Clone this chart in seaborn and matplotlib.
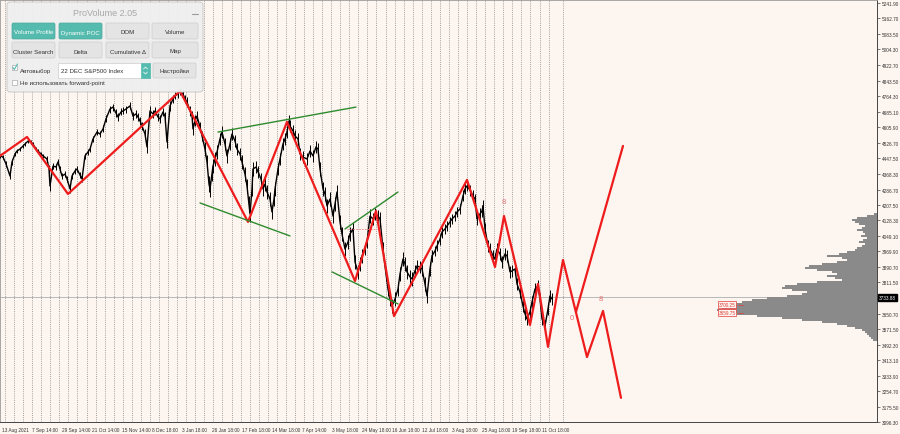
import numpy as np
import pandas as pd
import matplotlib
matplotlib.use("Agg")
import matplotlib.pyplot as plt
import seaborn as sns
from matplotlib.patches import FancyBboxPatch, Rectangle

sns.set_theme(style="white")
plt.rcParams["font.family"] = ["Liberation Sans", "DejaVu Sans"]

# ---------------- data ----------------
bar_x = [0, 3, 6, 10, 12, 15, 17, 20, 23, 25, 28, 31, 33, 36, 38, 41, 43, 47, 49, 50,
         53, 56, 58, 60, 62, 65, 67, 70, 72, 75, 77, 80, 82, 85, 88, 90, 93, 97, 100, 103,
         106, 110, 113, 116, 118, 121, 123, 126, 130, 133, 136, 138, 140, 142, 145, 147, 150, 153, 155, 158,
         160, 163, 165, 167, 170, 173, 175, 178, 180, 183, 185, 187, 190, 192, 193, 195, 197, 200, 202, 205,
         207, 209, 210, 212, 213, 215, 217, 220, 222, 225, 227, 230, 232, 235, 237, 240, 242, 245, 247, 249,
         250, 252, 253, 256, 258, 261, 263, 265, 267, 270, 272, 274, 275, 278, 280, 283, 285, 287, 289, 290,
         293, 295, 298, 300, 303, 307, 310, 313, 316, 318, 320, 323, 325, 327, 330, 333, 335, 337, 340, 342,
         345, 348, 350, 353, 355, 358, 360, 362, 365, 367, 370, 373, 375, 378, 380, 383, 386, 388, 390, 392,
         395, 398, 400, 403, 405, 407, 410, 412, 415, 417, 420, 422, 425, 427, 430, 432, 435, 437, 440, 442,
         445, 447, 450, 452, 455, 457, 460, 463, 465, 467, 470, 473, 475, 477, 480, 482, 483, 485, 488, 490,
         493, 495, 497, 500, 502, 505, 507, 510, 512, 515, 517, 520, 523, 525, 527, 530, 532, 535, 538, 540,
         542, 545, 548, 550, 552]
close = [4459, 4453, 4418, 4356, 4428, 4469, 4484, 4494, 4510, 4520, 4535, 4530, 4520, 4494, 4484, 4469, 4459, 4443, 4392, 4305,
         4407, 4402, 4428, 4392, 4356, 4366, 4341, 4290, 4356, 4382, 4392, 4361, 4341, 4459, 4479, 4494, 4546, 4581, 4571, 4597,
         4648, 4699, 4709, 4679, 4658, 4684, 4689, 4699, 4715, 4663, 4674, 4658, 4638, 4612, 4571, 4505, 4689, 4674, 4689, 4658,
         4648, 4684, 4663, 4530, 4715, 4750, 4766, 4776, 4791, 4776, 4750, 4735, 4689, 4663, 4597, 4638, 4663, 4607, 4561, 4494,
         4428, 4315, 4290, 4366, 4407, 4443, 4479, 4546, 4581, 4520, 4459, 4520, 4571, 4535, 4494, 4469, 4428, 4366, 4305, 4213,
         4162, 4290, 4392, 4402, 4377, 4341, 4290, 4315, 4274, 4238, 4172, 4238, 4290, 4392, 4443, 4520, 4546, 4581, 4638, 4612,
         4587, 4561, 4546, 4469, 4453, 4443, 4484, 4459, 4505, 4494, 4392, 4290, 4264, 4203, 4238, 4151, 4213, 4274, 4121, 4059,
         3982, 4018, 4059, 4085, 3916, 3865, 3906, 3947, 3982, 4018, 4151, 4136, 4162, 4151, 4136, 3982, 3854, 3777, 3726, 3690,
         3726, 3777, 3854, 3931, 3906, 3865, 3839, 3829, 3870, 3895, 3890, 3880, 3803, 3742, 3880, 3947, 3972, 3998, 4033, 4069,
         4085, 4100, 4121, 4136, 4151, 4172, 4187, 4254, 4290, 4305, 4284, 4254, 4238, 4136, 4162, 4177, 4203, 4085, 3998, 3982,
         3947, 3931, 3982, 3957, 3916, 3957, 3947, 3865, 3870, 3880, 3803, 3762, 3690, 3650, 3624, 3660, 3711, 3777, 3793, 3726,
         3624, 3588, 3675, 3742, 3726]
# half high-low range of the bars around each point (price units)
bar_spread = [10, 10, 14, 16, 14, 10, 10, 10, 10, 12, 12, 12, 12, 12, 12, 12, 12, 14, 20, 24,
              16, 14, 14, 16, 16, 14, 16, 20, 16, 14, 14, 14, 16, 14, 14, 16, 16, 16, 16, 18,
              18, 18, 18, 20, 20, 18, 18, 18, 18, 20, 20, 20, 22, 22, 24, 30, 26, 22, 22, 22,
              22, 22, 22, 30, 26, 20, 18, 18, 18, 20, 22, 24, 26, 28, 30, 28, 26, 26, 28, 34,
              36, 40, 40, 36, 36, 34, 34, 32, 30, 32, 34, 32, 32, 32, 32, 32, 34, 36, 38, 40,
              40, 36, 34, 32, 32, 32, 34, 34, 34, 34, 36, 36, 34, 32, 30, 30, 30, 30, 30, 30,
              30, 30, 30, 32, 32, 32, 30, 30, 30, 32, 34, 34, 34, 34, 34, 34, 34, 34, 36, 36,
              36, 34, 34, 34, 38, 36, 34, 34, 32, 32, 34, 32, 32, 32, 34, 36, 36, 38, 38, 38,
              36, 36, 34, 34, 34, 34, 34, 34, 32, 32, 32, 34, 36, 36, 34, 30, 28, 28, 28, 28,
              26, 26, 26, 26, 26, 26, 26, 28, 28, 28, 28, 28, 28, 30, 30, 30, 30, 30, 30, 30,
              30, 30, 30, 30, 30, 30, 30, 30, 30, 30, 30, 30, 32, 32, 32, 30, 30, 30, 30, 32,
              32, 32, 30, 30, 30]

zigzag_x = [0, 27, 68, 180, 248, 287, 355, 376, 394, 467, 495, 504, 530, 538, 548, 563, 587, 603, 621]
zigzag_p = [4459, 4556, 4264, 4791, 4121, 4633, 3818, 4177, 3639, 4336, 3890, 4151, 3593, 3803, 3481, 3926, 3429, 3665, 3220]
branch_x = [576, 623]
branch_p = [3660, 4510]

green_lines = [((218, 4581), (356, 4709)),
               ((200, 4218), (290, 4049)),
               ((345, 4085), (398, 4274)),
               ((332, 3865), (398, 3701))]

current_price = 3733.88

x_tick_labels = ["13 Aug 2021", "7 Sep 14:00", "29 Sep 14:00", "21 Oct 14:00", "15 Nov 14:00",
                 "8 Dec 18:00", "3 Jan 18:00", "26 Jan 18:00", "17 Feb 18:00", "14 Mar 18:00",
                 "7 Apr 14:00", "3 May 18:00", "24 May 18:00", "16 Jun 18:00", "12 Jul 18:00",
                 "3 Aug 18:00", "25 Aug 18:00", "19 Sep 18:00", "11 Oct 18:00"]
y_tick_values = [5241.90, 5162.70, 5083.50, 5004.30, 4922.70, 4843.50, 4764.30, 4685.10, 4605.90,
                 4526.70, 4447.50, 4368.30, 4286.70, 4207.50, 4128.30, 4049.10, 3969.90, 3890.70,
                 3811.50, 3650.70, 3571.50, 3492.30, 3413.10, 3333.90, 3254.70, 3175.50, 3096.30]

# volume profile (top price level, level step, widths in bar units)
profile_top = 4161.6
profile_step = 10.24
profile_vol = [3, 10, 20, 25, 22, 18, 12, 15, 20, 14, 12, 16, 10, 14, 18, 12, 15, 20, 22, 30,
               38, 50, 35, 30, 40, 55, 68, 72, 60, 45, 40, 50, 42, 35, 60, 80, 92, 95, 85, 70,
               75, 90, 110, 125, 135, 145, 150, 155, 160, 150, 140, 120, 95, 75, 55, 40, 30, 22, 15, 12,
               10, 8, 6, 4]
profile_levels_lbl = ["3700.25", "3659.75"]
profile_levels_val = [3698, 3657]

# ---------------- figure ----------------
BG = "#FDF5EF"
fig = plt.figure(figsize=(9, 4.35), dpi=100, facecolor=BG)
ax = fig.add_axes([0.0, 12 / 435, 877 / 900, 422 / 435])
ax.set_facecolor(BG)
XMAX = 877
ax.set_xlim(0, XMAX)
ax.set_ylim(3096.6, 5257.3)

# dotted period separators
grid_x = [5 + 9.06 * k for k in range(61)] + [563]
ax.vlines(grid_x, 3096.6, 5257.3, colors="#8c8c8c", linestyles=(0, (1.1, 1.5)), lw=0.6, zorder=1)

# current price line
ax.axhline(current_price, color="#b8b8b8", lw=0.7, zorder=1)

# volume profile
levels = [profile_top - profile_step * i for i in range(len(profile_vol))]
prof = pd.DataFrame({"level": levels, "vol": profile_vol})
ax.barh(prof["level"], prof["vol"], left=XMAX - prof["vol"], height=profile_step * 0.8,
        color="#8a8a8a", edgecolor="none", zorder=2)

# price
df = pd.DataFrame({"x": bar_x, "close": close, "spread": bar_spread})
ax.vlines(df["x"], df["close"] - df["spread"], df["close"] + df["spread"], colors="black", lw=0.7, zorder=3)
sns.lineplot(data=df, x="x", y="close", ax=ax, color="black", lw=1.0, estimator=None, sort=False, zorder=3)

# zigzag forecast
zz = pd.DataFrame({"x": zigzag_x, "p": zigzag_p})
sns.lineplot(data=zz, x="x", y="p", ax=ax, color="#EE1C1C", lw=1.6, estimator=None, sort=False, zorder=4)
br = pd.DataFrame({"x": branch_x, "p": branch_p})
sns.lineplot(data=br, x="x", y="p", ax=ax, color="#EE1C1C", lw=1.6, estimator=None, sort=False, zorder=4)

for (x0, y0), (x1, y1) in green_lines:
    ax.plot([x0, x1], [y0, y1], color="#2E8B2E", lw=1.0, zorder=4)
ax.plot([347, 377], [4085, 4085], color="#F08080", lw=0.6, ls=(0, (2, 1.5)), zorder=3)

for tx, ty, t in [(504, 4226, "8"), (572, 3632, "0"), (601, 3731, "8")]:
    ax.text(tx, ty, t, color="#E57373", fontsize=5.5, ha="center", va="center", zorder=5)

# profile level labels
for lbl, val in zip(profile_levels_lbl, profile_levels_val):
    ax.text(727, val, lbl, color="#E53935", fontsize=3.3, ha="center", va="center", zorder=6,
            bbox=dict(boxstyle="square,pad=0.15", fc=BG, ec="#E53935", lw=0.5))
    ax.plot([738, 743], [val, val], color="#E53935", lw=0.5, zorder=6)

# axes styling
for s in ["left", "top"]:
    ax.spines[s].set_color("#9a9a9a")
    ax.spines[s].set_linewidth(0.6)
for s in ["right", "bottom"]:
    ax.spines[s].set_color("#444444")
    ax.spines[s].set_linewidth(0.7)

ax.set_xlabel("")
ax.set_ylabel("")
ax.set_xticks([2 + 30 * k for k in range(len(x_tick_labels))])
ax.set_xticklabels(x_tick_labels, fontsize=3.4, color="#333333", ha="left")
ax.yaxis.tick_right()
ax.set_yticks(y_tick_values)
ax.set_yticklabels([f"{v:.2f}" for v in y_tick_values], fontsize=3.4, color="#333333")
ax.tick_params(axis="x", length=2, width=0.5, pad=1.5, color="#444444")
ax.tick_params(axis="y", length=2, width=0.5, pad=1.2, color="#444444")

ax.text(XMAX + 2, current_price, "3733.88", color="white", fontsize=3.3, ha="left", va="center",
        zorder=7, clip_on=False, bbox=dict(boxstyle="square,pad=0.2", fc="black", ec="black"))

# ---------------- ProVolume panel overlay ----------------
ov = fig.add_axes([0, 0, 1, 1], facecolor="none")
ov.set_xlim(0, 900)
ov.set_ylim(435, 0)
ov.axis("off")

ov.add_patch(FancyBboxPatch((7, 3), 196, 90, boxstyle="round,pad=0,rounding_size=3",
                            fc="#EFEFEF", ec="#c4c4c4", lw=0.6, alpha=0.95))
ov.text(105, 13, "ProVolume 2.05", color="#a8a8a8", fontsize=6.5, ha="center", va="center")
ov.plot([192, 198], [15, 15], color="#9a9a9a", lw=0.8)

TEAL = "#55BBAE"
rows = [["Volume Profile", "Dynamic POC", "DOM", "Volume"],
        ["Cluster Search", "Delta", "Cumulative Δ", "Map"]]
cols = [(12, 55), (59, 102), (106, 149), (152, 198)]
row_y = [(24, 40), (43, 59)]
for r, (y0, y1) in enumerate(row_y):
    for c, (x0, x1) in enumerate(cols):
        teal = (r == 0 and c < 2)
        ov.add_patch(FancyBboxPatch((x0, y0), x1 - x0, y1 - y0,
                                    boxstyle="round,pad=0,rounding_size=1.5",
                                    fc=TEAL if teal else "#E4E4E4",
                                    ec="#4aa89c" if teal else "#cdcdcd", lw=0.5))
        ov.text((x0 + x1) / 2, y0 + 9, rows[r][c], fontsize=4.4, ha="center", va="center",
                color="white" if teal else "#333333")

# row 3
ov.add_patch(Rectangle((12, 66), 5, 5, fc="white", ec="#999999", lw=0.4))
ov.plot([13, 14.3, 17.5], [68.5, 70.5, 65], color=TEAL, lw=0.8)
ov.text(20, 71, "Автовыбор", fontsize=4.4, color="#333333", ha="left", va="center")
ov.add_patch(Rectangle((58, 64), 92, 15, fc="white", ec="#cccccc", lw=0.5))
ov.text(61, 71.5, "22 DEC S&P500 Index", fontsize=4.4, color="#333333", ha="left", va="center")
ov.add_patch(Rectangle((141, 64), 9, 15, fc=TEAL, ec=TEAL, lw=0.5))
ov.plot([143.5, 145.5, 147.5], [70, 68, 70], color="white", lw=0.5)
ov.plot([143.5, 145.5, 147.5], [73, 75, 73], color="white", lw=0.5)
ov.add_patch(FancyBboxPatch((153, 64), 43, 15, boxstyle="round,pad=0,rounding_size=1.5",
                            fc="#E4E4E4", ec="#cdcdcd", lw=0.5))
ov.text(174.5, 71.5, "Настройки", fontsize=4.4, color="#333333", ha="center", va="center")

# row 4
ov.add_patch(Rectangle((12, 81), 5, 5, fc="white", ec="#999999", lw=0.4))
ov.text(20, 84, "Не использовать forward-point", fontsize=4.4, color="#333333", ha="left", va="center")

fig.savefig("out.png", dpi=100, facecolor=BG)
